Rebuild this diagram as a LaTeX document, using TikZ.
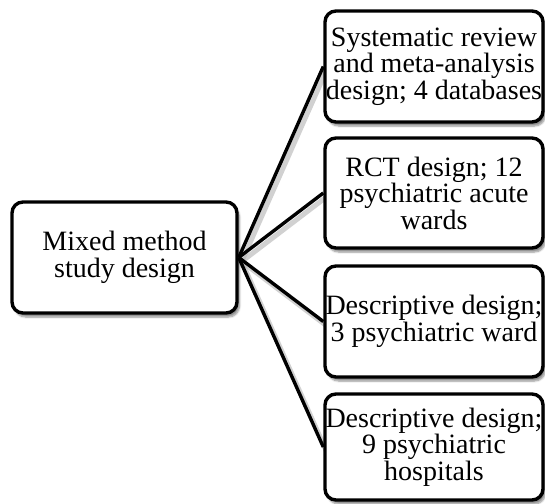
\documentclass[tikz,border=0pt]{standalone}
\usepackage{fontspec}
\setmainfont{Liberation Serif}
\usetikzlibrary{shadows.blur}
\pgfdeclarelayer{background}
\pgfsetlayers{background,main}
\tikzset{
  box/.style={draw=black, line width=3.4pt, rounded corners=11pt, fill=white,
    align=center, inner sep=0pt, font=\fontsize{28}{26.5}\selectfont,
    blur shadow={shadow blur steps=6, shadow xshift=2.5pt, shadow yshift=-4pt, shadow opacity=45, shadow blur extra rounding=3pt}},
  conn/.style={line width=3.4pt, black},
  connshadow/.style={line width=5pt, black!30, opacity=0.6}
}
\begin{document}
\begin{tikzpicture}[x=1pt,y=1pt]
\useasboundingbox (0,0) rectangle (545,-503);
\node[box, minimum width=225pt, minimum height=111pt] (main) at (124.5,-257.5) {Mixed method\\study design};
\node[box, minimum width=218pt, minimum height=111pt] (b1) at (434,-66.5) {Systematic review\\and meta-analysis\\design; 4 databases};
\node[box, minimum width=218pt, minimum height=110pt] (b2) at (434,-193) {RCT design; 12\\psychiatric acute\\wards};
\node[box, minimum width=218pt, minimum height=111pt] (b3) at (434,-321.5) {Descriptive design;\\3 psychiatric ward};
\node[box, minimum width=218pt, minimum height=106pt] (b4) at (434,-447) {Descriptive design;\\9 psychiatric\\hospitals};
\begin{pgfonlayer}{background}
\foreach \t in {b1,b2,b3,b4}{
  \draw[connshadow] ([xshift=3pt,yshift=-4pt]main.east) -- ([xshift=3pt,yshift=-4pt]\t.west);
}
\foreach \t in {b1,b2,b3,b4}{
  \draw[conn] (main.east) -- (\t.west);
}
\end{pgfonlayer}
\end{tikzpicture}
\end{document}
